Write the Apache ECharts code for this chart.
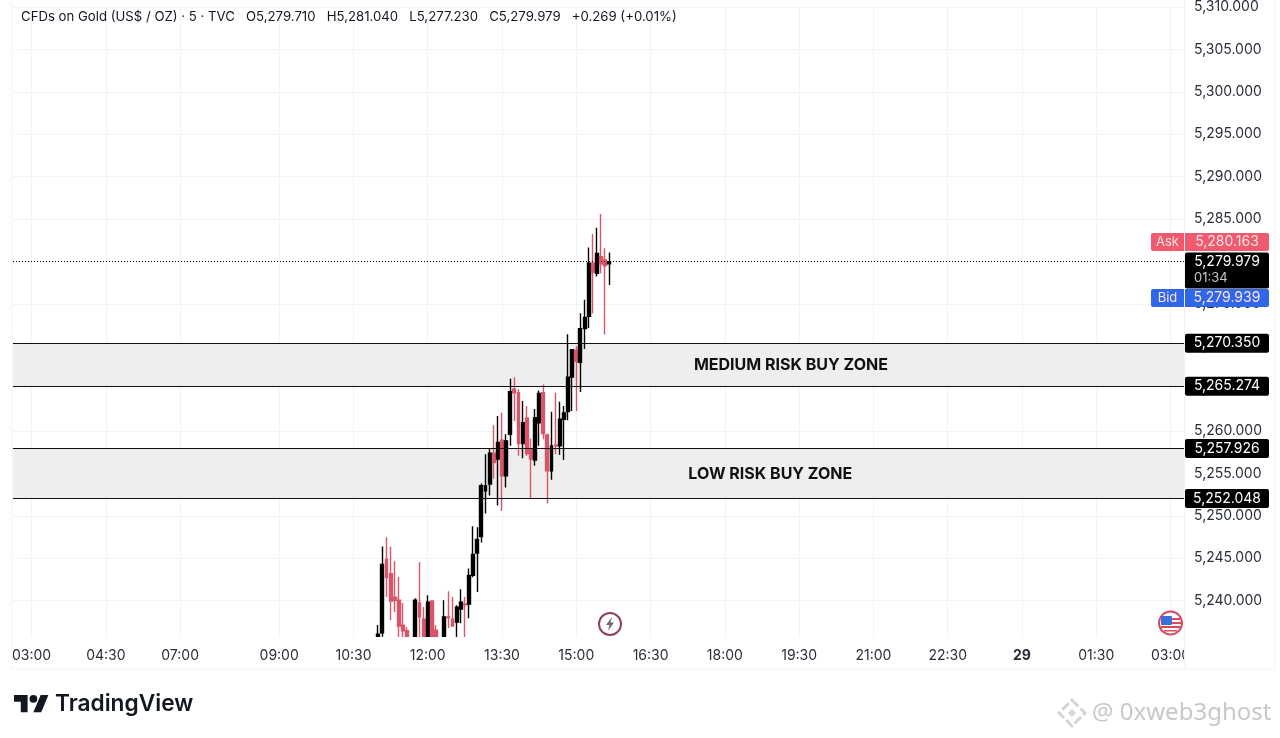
<!DOCTYPE html>
<html><head><meta charset="utf-8">
<style>html,body{margin:0;padding:0;background:#fff}#c{width:1280px;height:738px}</style>
<script src="https://cdn.jsdelivr.net/npm/echarts@6/dist/echarts.min.js"></script>
</head><body><div id="c"></div>
<script>
const SLOT_COUNT = 284;
const FIRST_CANDLE_SLOT = 88;
const tickSlots = [4,22,40,64,82,100,118,136,154,172,190,208,226,244,262,280];
const tickLabels = ['03:00','04:30','07:00','09:00','10:30','12:00','13:30','15:00','16:30','18:00','19:30','21:00','22:30','29','01:30','03:00'];
const opens = [5235.0,5236.2,5244.86,5243.18,5240.4,5240.05,5237.11,5236.44,5235.0,5235.0,5239.73,5237.81,5235.0,5239.96,5236.52,5235.0,5235.0,5238.08,5237.81,5237.46,5238.99,5239.58,5239.58,5242.98,5245.6,5247.56,5252.96,5253.75,5257.39,5256.69,5258.92,5254.73,5259.62,5264.94,5264.51,5258.52,5261.5,5257.86,5256.57,5260.98,5264.51,5259.54,5255.31,5258.33,5258.25,5261.38,5262.28,5266.35,5269.52,5268.11,5272.07,5273.52,5279.78,5278.6,5280.56,5280.17,5279.71];
const closes = [5236.05,5244.27,5242.71,5239.96,5240.05,5236.99,5236.44,5235.2,5235.0,5240.05,5238.08,5235.0,5239.81,5235.0,5235.0,5235.0,5238.08,5237.99,5236.99,5239.22,5239.81,5239.49,5242.98,5245.45,5247.21,5253.55,5253.55,5257.39,5256.29,5258.64,5254.73,5258.84,5264.63,5264.51,5258.52,5260.98,5257.34,5256.69,5261.57,5264.44,5259.69,5255.31,5258.25,5258.25,5261.38,5262.12,5266.35,5269.6,5268.23,5272.07,5273.4,5279.78,5278.72,5280.95,5279.7,5279.47,5279.979];
const lows = [5235.0,5235.74,5240.43,5237.7,5238.67,5235.5,5235.0,5235.0,5235.0,5235.0,5235.3,5235.0,5235.0,5235.0,5235.0,5235.0,5235.0,5236.76,5236.91,5235.7,5237.34,5235.7,5237.93,5242.75,5241.02,5246.86,5250.26,5252.38,5254.37,5251.2,5250.61,5253.35,5258.25,5261.18,5257.07,5256.8,5257.07,5251.99,5255.9,5258.25,5259.04,5251.44,5254.26,5257.27,5257.19,5256.57,5261.27,5262.36,5262.36,5264.59,5269.68,5272.14,5273.9,5278.21,5278.6,5271.37,5277.23];
const highs = [5237.11,5246.39,5247.48,5246.39,5244.63,5242.78,5239.73,5236.87,5235.3,5240.28,5244.54,5239.26,5240.63,5240.05,5237.11,5235.2,5240.05,5241.1,5240.43,5239.46,5241.34,5240.43,5243.8,5248.77,5248.65,5253.82,5257.27,5257.9,5260.68,5261.77,5262.16,5259.62,5266.15,5266.35,5264.91,5263.53,5262.95,5259.11,5262.59,5264.79,5265.49,5259.69,5262.28,5264.51,5263.45,5262.95,5271.4,5269.64,5269.99,5273.9,5275.48,5281.65,5283.23,5283.97,5285.58,5281.54,5281.04];
const zoneLevels = [5270.35,5265.274,5257.926,5252.048];
const zoneLabels = ['MEDIUM RISK BUY ZONE','LOW RISK BUY ZONE'];
const zoneLabelSlots = [187.5,182.5];
const lastPrice = 5279.979, askPrice = 5280.163, bidPrice = 5279.939;
const headerText = 'CFDs on Gold (US$ / OZ) · 5 · TVC   O5,279.710   H5,281.040   L5,277.230   C5,279.979   +0.269 (+0.01%)';

const FONT = 'Inter, "Noto Sans", sans-serif';
const fmt = v => Number(v).toLocaleString('en-US',{minimumFractionDigits:3,maximumFractionDigits:3});
const categories = Array(SLOT_COUNT).fill('');
tickSlots.forEach((s,k)=>{categories[s]=tickLabels[k];});
const candles = Array(SLOT_COUNT).fill('-');
opens.forEach((o,k)=>{candles[FIRST_CANDLE_SLOT+k]=[o,closes[k],lows[k],highs[k]];});

const zoneLine = v => ({
  yAxis:v,
  lineStyle:{color:'#111',width:1.2,type:'solid'},
  label:{show:true,position:'end',distance:0,formatter:'{p|'+fmt(v)+'}',rich:{p:{color:'#fff',backgroundColor:'#000',width:84,height:19,lineHeight:19,align:'center',fontSize:14,fontFamily:FONT,borderRadius:2}}}
});
const tagLine = (v,tag,color,dy) => ({
  yAxis:v,
  lineStyle:{color:'rgba(0,0,0,0)',width:1},
  label:{show:true,position:'end',distance:0,offset:[-34,dy],formatter:'{a|'+tag+'}{g|}{p|'+fmt(v)+'}',
    rich:{
      a:{color:'#fde3e6',backgroundColor:color,width:33,height:18,lineHeight:18,align:'center',fontSize:13,fontFamily:FONT,borderRadius:[2,0,0,2]},
      g:{width:1,height:18},
      p:{color:'#fde3e6',backgroundColor:color,width:84,height:18,lineHeight:18,align:'center',fontSize:14,fontFamily:FONT,borderRadius:[0,2,2,0]}
    }}
});

const overlays = [
    {type:'rect',shape:{x:12,y:637,width:1173,height:8},style:{fill:'#fff'}},
    {type:'rect',shape:{x:1184.5,y:640,width:91,height:28},style:{fill:'#fff'}},
    {type:'line',shape:{x1:12,y1:0,x2:12,y2:669},style:{stroke:'#f1f3f6',lineWidth:1}},
    {type:'line',shape:{x1:1184.5,y1:0,x2:1184.5,y2:669},style:{stroke:'#f1f3f6',lineWidth:1}},
    {type:'line',shape:{x1:1275,y1:0,x2:1275,y2:669},style:{stroke:'#f1f3f6',lineWidth:1}},
    {type:'line',shape:{x1:12,y1:669,x2:1275,y2:669},style:{stroke:'#f1f3f6',lineWidth:1}},
    {type:'text',x:21,y:17,style:{text:headerText,fill:'#131722',fontSize:13.2,fontFamily:FONT,textVerticalAlign:'middle'}},
    {type:'circle',shape:{cx:610,cy:624,r:11},style:{fill:'#fff',stroke:'#8e4452',lineWidth:2}},
    {type:'polygon',shape:{points:[[612,617],[606,625],[609.5,625],[608,631],[614,622.5],[610.5,622.5]]},style:{fill:'#6b6b6b'}},
    {type:'circle',shape:{cx:1170.5,cy:623,r:11.5},style:{fill:'#fff',stroke:'#d9485d',lineWidth:2}},
    {type:'rect',shape:{x:1161,y:616,width:11,height:9,r:1},style:{fill:'#3a6fd8'}},
    {type:'rect',shape:{x:1172,y:618,width:8,height:2},style:{fill:'#d9485d'}},
    {type:'rect',shape:{x:1172,y:622,width:9,height:2},style:{fill:'#d9485d'}},
    {type:'rect',shape:{x:1161,y:626,width:19,height:2},style:{fill:'#d9485d'}},
    {type:'rect',shape:{x:1164,y:630,width:13,height:1.5},style:{fill:'#d9485d'}},
    {type:'polygon',shape:{points:[[14,694.9],[27.6,694.9],[27.6,712.3],[20.8,712.3],[20.8,701.7],[14,701.7]]},style:{fill:'#131722'}},
    {type:'polygon',shape:{points:[[33.4,712.3],[40.7,694.9],[48.4,694.9],[41.2,712.3]]},style:{fill:'#131722'}},
    {type:'circle',shape:{cx:33.4,cy:698.8,r:3.9},style:{fill:'#131722'}},
    {type:'text',x:55,y:704,style:{text:'TradingView',fill:'#131722',fontSize:22.7,fontWeight:600,fontFamily:FONT,textVerticalAlign:'middle'}},
    {type:'polygon',shape:{points:[[1072,700],[1085,713],[1072,726],[1059,713]]},style:{fill:'none',stroke:'#d4d4d4',lineWidth:3,lineDash:[9,3]}},
    {type:'polygon',shape:{points:[[1072,709],[1076,713],[1072,717],[1068,713]]},style:{fill:'#d8d8d8'}},
    {type:'text',x:1092,y:713,style:{text:'@ 0xweb3ghost',fill:'#c8c8c8',fontSize:24,fontFamily:'"Noto Sans", sans-serif',textVerticalAlign:'middle'}}
];

const chart = echarts.init(document.getElementById('c'),null,{renderer:'canvas'});
chart.setOption({
  animation:false,
  backgroundColor:'#fff',
  grid:{left:13,width:1172,top:4.4,height:638.6,containLabel:false,show:false},
  xAxis:{type:'category',data:categories,boundaryGap:true,
    axisLine:{show:false},axisTick:{show:false},
    axisLabel:{interval:(i,v)=>v!=='',margin:6,color:'#2a2e39',fontSize:14,fontFamily:FONT,
      formatter:v=>v==='29'?'{b|29}':v,rich:{b:{fontWeight:700,fontSize:14,color:'#2a2e39',fontFamily:FONT}}},
    splitLine:{show:true,alignWithLabel:true,interval:(i,v)=>v!=='',lineStyle:{color:'#f1f3f6',width:1}}
  },
  yAxis:{type:'value',position:'right',min:5235,max:5310,interval:5,
    axisLine:{show:false},axisTick:{show:false},
    axisLabel:{margin:9,color:'#2a2e39',fontSize:14,fontFamily:FONT,showMinLabel:false,formatter:v=>fmt(v)},
    splitLine:{show:true,lineStyle:{color:'#f1f3f6',width:1}}
  },
  series:[{
    type:'candlestick',data:candles,barWidth:3.4,
    itemStyle:{color:'#000',color0:'#d9566a',borderColor:'#000',borderColor0:'#d9566a',borderWidth:1.4},
    markArea:{silent:true,itemStyle:{color:'#eeeeee'},data:[
      [{yAxis:zoneLevels[0]},{yAxis:zoneLevels[1]}],
      [{yAxis:zoneLevels[2]},{yAxis:zoneLevels[3]}]
    ]},
    markLine:{silent:true,symbol:'none',precision:3,data:[
      ...zoneLevels.map(zoneLine),
      {yAxis:lastPrice,lineStyle:{color:'#000',width:1,type:[1,2]},
       label:{show:true,position:'end',distance:0,offset:[0,9],formatter:'{p|'+fmt(lastPrice)+'}\n{t|01:34}',
         backgroundColor:'#000',borderRadius:2,padding:[0,0,2,0],
         rich:{p:{color:'#fff',width:84,height:18,lineHeight:18,align:'center',fontSize:14,fontFamily:FONT},
               t:{color:'#c8c8c8',width:75,height:16,lineHeight:16,align:'left',padding:[0,0,0,9],fontSize:13,fontFamily:FONT}}}},
      tagLine(askPrice,'Ask','#ef5a6f',-18),
      tagLine(bidPrice,'Bid','#2f66ea',36)
    ]},
    markPoint:{silent:true,symbol:'circle',symbolSize:0,data:[
      {coord:[zoneLabelSlots[0],(zoneLevels[0]+zoneLevels[1])/2],label:{show:true,position:'inside',formatter:zoneLabels[0],color:'#111',fontSize:16,fontWeight:700,fontFamily:FONT}},
      {coord:[zoneLabelSlots[1],(zoneLevels[2]+zoneLevels[3])/2],label:{show:true,position:'inside',offset:[0,1],formatter:zoneLabels[1],color:'#111',fontSize:16,fontWeight:700,fontFamily:FONT}}
    ]}
  }],
  graphic:{elements:overlays.map(e=>({z:100,...e}))}
});
</script></body></html>
